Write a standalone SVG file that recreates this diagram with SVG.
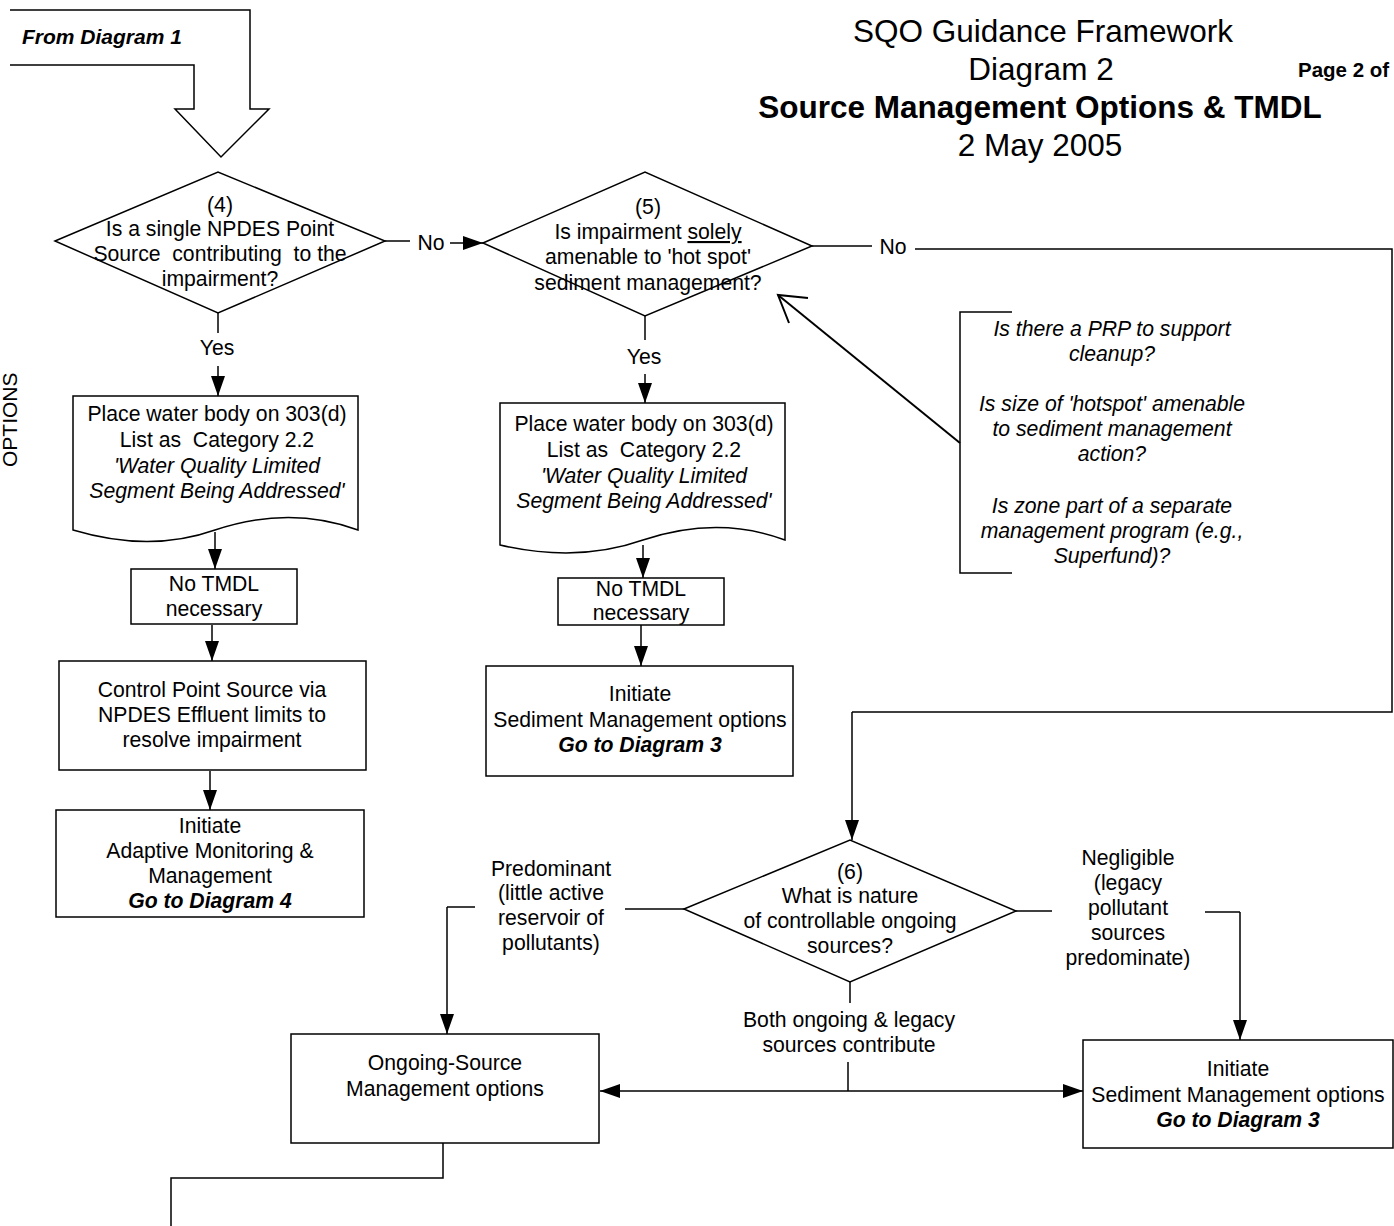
<svg xmlns="http://www.w3.org/2000/svg" width="1394" height="1226" viewBox="0 0 1394 1226">
<defs>
<marker id="ah" markerWidth="20" markerHeight="14" refX="20" refY="7" orient="auto" markerUnits="userSpaceOnUse"><path d="M0,0 L20,7 L0,14 Z" fill="#000"/></marker>
</defs>
<style>
text{font-family:"Liberation Sans",Arial,sans-serif;fill:#000;}
.t{font-size:21.2px;text-anchor:middle;}
.i{font-style:italic;}
.bi{font-style:italic;font-weight:bold;}
.shape{fill:#fff;stroke:#000;stroke-width:1.5;}
.ln{fill:none;stroke:#000;stroke-width:1.5;}
.arr{fill:none;stroke:#000;stroke-width:1.5;marker-end:url(#ah);}
</style>
<rect width="1394" height="1226" fill="#fff"/>

<g id="header">
<text x="1043" y="42" style="font-size:31.5px;text-anchor:middle">SQO Guidance Framework</text>
<text x="1041" y="80" style="font-size:31.5px;text-anchor:middle">Diagram 2</text>
<text x="1040" y="118" style="font-size:31.5px;text-anchor:middle;font-weight:bold">Source Management Options &amp; TMDL</text>
<text x="1040" y="156" style="font-size:31.5px;text-anchor:middle">2 May 2005</text>
<text x="1298" y="77" style="font-size:20.5px;font-weight:bold">Page 2 of</text>
<text transform="translate(17,467) rotate(-90)" style="font-size:21px">OPTIONS</text>
</g>

<g id="from-diagram-1">
<path class="ln" d="M10,10 H250 V109 H269 L221,157 L175,109 H194 V65 H10"/>
<text x="22" y="44" style="font-size:21px" class="bi">From Diagram 1</text>
</g>

<g id="connectors">
<path class="ln" d="M385,241 H410"/>
<path class="arr" d="M450,243 H483"/>
<path class="ln" d="M218,313 V333"/>
<path class="arr" d="M218,366 V396"/>
<path class="arr" d="M215,532 V569"/>
<path class="arr" d="M212,625 V661"/>
<path class="arr" d="M210,771 V810"/>
<path class="ln" d="M812,246 H872"/>
<path class="ln" d="M915,249 H1392 V712 H852"/>
<path class="arr" d="M852,712 V840"/>
<path class="ln" d="M645,316 V340"/>
<path class="arr" d="M645,374 V403"/>
<path class="arr" d="M643,545 V578"/>
<path class="arr" d="M641,625 V666"/>
<path class="ln" style="stroke-width:2" d="M960,443 L778,295"/>
<path class="ln" style="stroke-width:2" d="M808,298 L778,295 L789,323"/>
<path class="ln" d="M684,909 H625"/>
<path class="ln" d="M475,907 H447"/>
<path class="arr" d="M447,907 V1034"/>
<path class="ln" d="M1016,911 H1052"/>
<path class="ln" d="M1205,912 H1240"/>
<path class="arr" d="M1240,912 V1040"/>
<path class="ln" d="M850,982 V1003"/>
<path class="ln" d="M848,1062 V1091"/>
<path class="arr" d="M848,1091 H600"/>
<path class="arr" d="M848,1091 H1083"/>
<path class="ln" d="M443,1143 V1178 H171 V1226"/>
<text x="431" y="250" class="t">No</text>
<text x="893" y="254" class="t">No</text>
<text x="217" y="355" class="t">Yes</text>
<text x="644" y="364" class="t">Yes</text>
<text x="551" y="876" class="t">Predominant</text>
<text x="551" y="900" class="t">(little active</text>
<text x="551" y="925" class="t">reservoir of</text>
<text x="551" y="950" class="t">pollutants)</text>
<text x="1128" y="865" class="t">Negligible</text>
<text x="1128" y="890" class="t">(legacy</text>
<text x="1128" y="915" class="t">pollutant</text>
<text x="1128" y="940" class="t">sources</text>
<text x="1128" y="965" class="t">predominate)</text>
<text x="849" y="1027" class="t">Both ongoing &amp; legacy</text>
<text x="849" y="1052" class="t">sources contribute</text>
</g>

<g id="decision-4">
<polygon class="shape" points="55,241 218,172 385,241 218,313"/>
<text x="220" y="212" class="t">(4)</text>
<text x="220" y="236" class="t">Is a single NPDES Point</text>
<text x="220" y="261" class="t" xml:space="preserve">Source  contributing  to the</text>
<text x="220" y="286" class="t">impairment?</text>
</g>

<g id="decision-5">
<polygon class="shape" points="483,243 645,172 812,246 645,316"/>
<text x="648" y="214" class="t">(5)</text>
<text x="648" y="239" class="t">Is impairment <tspan text-decoration="underline">solely</tspan></text>
<text x="648" y="264" class="t">amenable to 'hot spot'</text>
<text x="648" y="290" class="t">sediment management?</text>
</g>

<g id="callout">
<path class="ln" d="M1012,312 H960 V573 H1012"/>
<text x="1112" y="336" class="t i">Is there a PRP to support</text>
<text x="1112" y="361" class="t i">cleanup?</text>
<text x="1112" y="411" class="t i">Is size of 'hotspot' amenable</text>
<text x="1112" y="436" class="t i">to sediment management</text>
<text x="1112" y="461" class="t i">action?</text>
<text x="1112" y="513" class="t i">Is zone part of a separate</text>
<text x="1112" y="538" class="t i">management program (e.g.,</text>
<text x="1112" y="563" class="t i">Superfund)?</text>
</g>

<g id="doc-1">
<path class="shape" d="M73,396 H358 V530 Q290,505 215,530 Q150,553 73,530 Z"/>
<text x="217" y="421" class="t">Place water body on 303(d)</text>
<text x="217" y="447" class="t" xml:space="preserve">List as  Category 2.2</text>
<text x="217" y="473" class="t i">'Water Quality Limited</text>
<text x="217" y="498" class="t i">Segment Being Addressed'</text>
</g>

<g id="notmdl-1">
<rect class="shape" x="131" y="569" width="166" height="55"/>
<text x="214" y="591" class="t">No TMDL</text>
<text x="214" y="616" class="t">necessary</text>
</g>

<g id="control-point">
<rect class="shape" x="59" y="661" width="307" height="109"/>
<text x="212" y="697" class="t">Control Point Source via</text>
<text x="212" y="722" class="t">NPDES Effluent limits to</text>
<text x="212" y="747" class="t">resolve impairment</text>
</g>

<g id="adaptive">
<rect class="shape" x="56" y="810" width="308" height="107"/>
<text x="210" y="833" class="t">Initiate</text>
<text x="210" y="858" class="t">Adaptive Monitoring &amp;</text>
<text x="210" y="883" class="t">Management</text>
<text x="210" y="908" class="t bi">Go to Diagram 4</text>
</g>

<g id="doc-2">
<path class="shape" d="M500,403 H785 V540 Q718,515 643,540 Q578,563 500,545 Z"/>
<text x="644" y="431" class="t">Place water body on 303(d)</text>
<text x="644" y="457" class="t" xml:space="preserve">List as  Category 2.2</text>
<text x="644" y="483" class="t i">'Water Quality Limited</text>
<text x="644" y="508" class="t i">Segment Being Addressed'</text>
</g>

<g id="notmdl-2">
<rect class="shape" x="558" y="578" width="166" height="47"/>
<text x="641" y="596" class="t">No TMDL</text>
<text x="641" y="620" class="t">necessary</text>
</g>

<g id="sediment-1">
<rect class="shape" x="486" y="666" width="307" height="110"/>
<text x="640" y="701" class="t">Initiate</text>
<text x="640" y="727" class="t">Sediment Management options</text>
<text x="640" y="752" class="t bi">Go to Diagram 3</text>
</g>

<g id="decision-6">
<polygon class="shape" points="684,909 850,840 1016,911 850,982"/>
<text x="850" y="879" class="t">(6)</text>
<text x="850" y="903" class="t">What is nature</text>
<text x="850" y="928" class="t">of controllable ongoing</text>
<text x="850" y="953" class="t">sources?</text>
</g>

<g id="ongoing">
<rect class="shape" x="291" y="1034" width="308" height="109"/>
<text x="445" y="1070" class="t">Ongoing-Source</text>
<text x="445" y="1096" class="t">Management options</text>
</g>

<g id="sediment-2">
<rect class="shape" x="1083" y="1040" width="310" height="108"/>
<text x="1238" y="1076" class="t">Initiate</text>
<text x="1238" y="1102" class="t">Sediment Management options</text>
<text x="1238" y="1127" class="t bi">Go to Diagram 3</text>
</g>
</svg>
